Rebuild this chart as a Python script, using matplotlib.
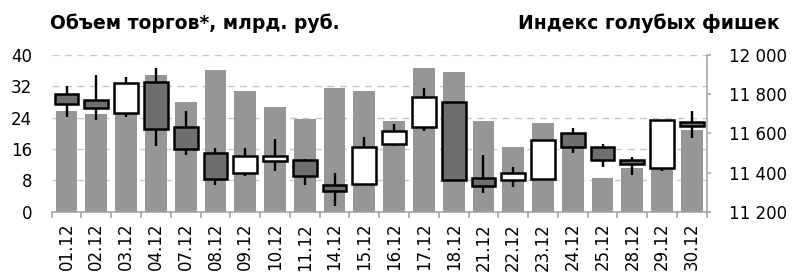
import numpy as np
import matplotlib
matplotlib.use("Agg")
import matplotlib.pyplot as plt
from matplotlib.ticker import FuncFormatter

# data
dates = ['01.12', '02.12', '03.12', '04.12', '07.12', '08.12', '09.12', '10.12',
         '11.12', '14.12', '15.12', '16.12', '17.12', '18.12', '21.12', '22.12',
         '23.12', '24.12', '25.12', '28.12', '29.12', '30.12']
volume = [25.8, 25.0, 25.5, 34.9, 27.9, 36.2, 30.7, 26.8, 23.6, 31.5, 30.7,
          23.2, 36.6, 35.7, 23.2, 16.5, 22.6, 16.5, 8.7, 11.1, 11.0, 20.9]
idx_open = [11800, 11771, 11703, 11864, 11630, 11499, 11397, 11461, 11463, 11334, 11339,
            11545, 11630, 11762, 11372, 11360, 11367, 11604, 11528, 11462, 11422, 11660]
idx_high = [11842, 11898, 11889, 11935, 11715, 11525, 11525, 11572, 11470, 11397, 11582,
            11648, 11833, 11762, 11490, 11426, 11567, 11626, 11545, 11479, 11669, 11715]
idx_low = [11686, 11669, 11686, 11536, 11490, 11334, 11380, 11409, 11334, 11231, 11339,
           11536, 11613, 11360, 11295, 11324, 11367, 11499, 11426, 11389, 11409, 11574]
idx_close = [11750, 11731, 11856, 11621, 11519, 11368, 11482, 11482, 11380, 11304, 11528,
             11613, 11788, 11360, 11332, 11397, 11567, 11528, 11462, 11443, 11669, 11638]

fig = plt.figure(figsize=(7.95, 2.73), dpi=100)
ax = fig.add_axes([0.065, 0.2245, 0.824, 0.574])
ax2 = ax.twinx()

x = np.arange(len(dates))
spine_col = '#a6a6a6'

# volume bars (left axis)
ax.bar(x, volume, width=0.73, color='#969696', zorder=2)
ax.set_ylim(0, 40)
ax.set_yticks(np.arange(0, 41, 8))
ax.set_xlim(-0.5, len(dates) - 0.5)
ax.yaxis.grid(True, linestyle=(0, (5, 4)), color='#c8c8c8', linewidth=1.0)
ax.set_axisbelow(True)

# candles (right axis)
o = np.array(idx_open)
c = np.array(idx_close)
up = c >= o
body_bot = np.minimum(o, c)
body_h = np.maximum(np.abs(c - o), 2)
ax2.vlines(x, idx_low, idx_high, color='black', linewidth=1.7, zorder=2)
ax2.bar(x, body_h, bottom=body_bot, width=0.8,
        color=np.where(up, 'white', '#6e6e6e'), edgecolor='black',
        linewidth=1.8, zorder=3)
ax2.set_ylim(11200, 12000)
ax2.set_yticks(np.arange(11200, 12001, 200))
ax2.yaxis.set_major_formatter(FuncFormatter(lambda v, p: f"{int(v):,}".replace(',', ' ')))

# spines and ticks
for a in (ax, ax2):
    for s in ('top', 'left', 'right', 'bottom'):
        a.spines[s].set_visible(False)
ax.spines['bottom'].set_visible(True)
ax.spines['bottom'].set_color(spine_col)
ax.spines['bottom'].set_linewidth(1.2)
ax2.spines['right'].set_visible(True)
ax2.spines['right'].set_color(spine_col)
ax2.spines['right'].set_linewidth(1.2)

ax.set_xticks(x)
ax.set_xticklabels(dates, rotation=90, fontsize=12)
ax.set_xticks(np.arange(-0.5, len(dates), 1), minor=True)
ax.tick_params(axis='x', which='major', length=0, pad=8)
ax.tick_params(axis='x', which='minor', length=4, color=spine_col, width=1.2)
ax.tick_params(axis='y', length=0, pad=14, labelsize=12)
ax2.tick_params(axis='y', length=3, color=spine_col, width=1.2, pad=13, labelsize=12)

fig.text(0.063, 0.915, 'Объем торгов*, млрд. руб.', fontsize=13.5,
         fontweight='bold', ha='left', va='center')
fig.text(0.981, 0.915, 'Индекс голубых фишек', fontsize=13.5,
         fontweight='bold', ha='right', va='center')

fig.savefig('out.png', dpi=100)
